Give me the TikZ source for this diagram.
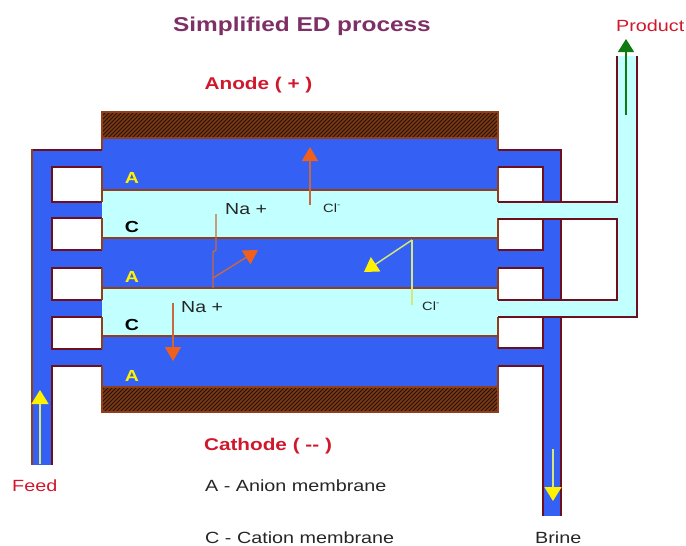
\documentclass[tikz,border=0pt]{standalone}
\usepackage{fontspec}
\setmainfont[FakeStretch=1.22]{Liberation Sans}
\usetikzlibrary{arrows.meta}
\definecolor{bluefill}{HTML}{3560F4}
\definecolor{lightfill}{HTML}{C2FFFF}
\definecolor{maroon}{HTML}{6E0F1E}
\definecolor{rust}{HTML}{8F3F1C}
\definecolor{hatchbrown}{HTML}{7A3A14}
\definecolor{hatchdark}{HTML}{2A1008}
\definecolor{orangehead}{HTML}{F0601C}
\definecolor{orangeline}{HTML}{C8683E}
\definecolor{yellowline}{HTML}{D8E878}
\definecolor{titlepurple}{HTML}{7E2F66}
\definecolor{labelred}{HTML}{D0182C}
\definecolor{greenarrow}{HTML}{0E7A12}
\tikzset{
  x=1pt,y=-1pt,
  pipe/.style={draw=maroon,line width=2.4pt,line cap=butt,line join=miter},
  membrane/.style={draw=rust,line width=2pt},
  bluearea/.style={fill=bluefill,draw=none},
  lightarea/.style={fill=lightfill,draw=none},
  orangearrow/.style={draw=orangeline,line width=1.4pt,-{Triangle[length=14pt,width=16pt,fill=orangehead,color=orangehead]}},
  orangewire/.style={draw=orangeline,line width=1.4pt},
  yellowarrow/.style={draw=yellowline,line width=1.4pt,-{Triangle[length=14pt,width=17pt,fill=yellow,color=yellow]}},
  greenarr/.style={draw=greenarrow,line width=1.4pt,-{Triangle[length=13pt,width=16pt,fill=greenarrow,color=greenarrow]}},
  memlabel/.style={font=\bfseries\fontsize{16}{16}\selectfont,inner sep=0pt},
  ionlabel/.style={font=\fontsize{16}{16}\selectfont,text=black!85,inner sep=0pt,anchor=west},
  plainlabel/.style={font=\fontsize{16.2}{16}\selectfont,inner sep=0pt,anchor=west},
  electrode/.style={draw=rust,line width=2pt}
}
\begin{document}
\begin{tikzpicture}
\useasboundingbox (0,0) rectangle (686,546);
% blue fills: left manifold, body, right manifold
\fill[bluearea] (32,150) rectangle (102,465);
\fill[bluearea] (102,138) rectangle (498,387);
\fill[bluearea] (498,150) rectangle (561,516);
% white openings
\foreach \ya/\yb in {167/202,218/250,268/300,317/349}{
  \fill[white] (52,\ya) rectangle (102,\yb);
  \fill[white] (498,\ya) rectangle (543,\yb);
}
\fill[white] (52,366) rectangle (102,466);
\fill[white] (498,366) rectangle (543,517);
% light channels
\fill[lightarea] (102,190) rectangle (498,238);
\fill[lightarea] (102,288) rectangle (498,336);
\fill[lightarea] (498,202) rectangle (637,219);
\fill[lightarea] (498,300) rectangle (637,317);
\fill[lightarea] (617,56) rectangle (637,317);
% electrodes
\begin{scope}
\clip (102,112) rectangle (498,138);
\fill[hatchdark] (102,112) rectangle (498,138);
\foreach \k in {-10,...,110}{\draw[hatchbrown,line width=1.5pt] (90+\k*4,142) -- (124+\k*4,108);}
\end{scope}
\begin{scope}
\clip (102,387) rectangle (498,412);
\fill[hatchdark] (102,387) rectangle (498,412);
\foreach \k in {-10,...,110}{\draw[hatchbrown,line width=1.5pt] (90+\k*4,416) -- (124+\k*4,382);}
\end{scope}
\draw[electrode] (102,112) rectangle (498,138);
\draw[electrode] (102,387) rectangle (498,412);
% membranes
\foreach \y in {190,238,288,336}{\draw[membrane] (102,\y) -- (498,\y);}
\draw[membrane] (102,138) -- (102,150);
\draw[membrane] (498,138) -- (498,150);
% left manifold walls
\draw[pipe] (102,150) -- (32,150);
\draw[draw=rust,line width=2.4pt] (32,149) -- (32,465);
\foreach \ya/\yb in {167/202,218/250,268/300,317/349}{
  \draw[pipe] (102,\ya) -- (52,\ya) -- (52,\yb) -- (102,\yb);
  \draw[membrane] (102,\ya) -- (102,\yb);
  \draw[membrane] (498,\ya) -- (498,\yb);
}
\draw[pipe] (102,366) -- (52,366) -- (52,465);
\draw[membrane] (102,366) -- (102,387);
\draw[membrane] (498,366) -- (498,387);
% right manifold walls
\draw[pipe] (498,150) -- (561,150) -- (561,202);
\draw[pipe] (561,219) -- (561,300);
\draw[pipe] (561,317) -- (561,516);
\draw[pipe] (498,167) -- (543,167) -- (543,202);
\draw[pipe] (498,250) -- (543,250) -- (543,219);
\draw[pipe] (498,268) -- (543,268) -- (543,300);
\draw[pipe] (498,348) -- (543,348) -- (543,317);
\draw[pipe] (498,366) -- (543,366) -- (543,516);
% product pipe
\draw[pipe] (498,202) -- (617,202) -- (617,56);
\draw[pipe] (498,219) -- (617,219) -- (617,300) -- (498,300);
\draw[pipe] (637,56) -- (637,317) -- (498,317);
% arrow end points
\coordinate (clupa) at (310,205);
\coordinate (clupb) at (310,147);
\coordinate (nawa) at (216,214);
\coordinate (nawb) at (216,250);
\coordinate (nawc) at (213,252);
\coordinate (nawd) at (213,288);
\coordinate (nabr) at (213,278);
\coordinate (natip) at (258,250);
\coordinate (nalowa) at (173,303);
\coordinate (nalowb) at (173,361);
\coordinate (clwa) at (412,305);
\coordinate (clwb) at (412,240);
\coordinate (cltip) at (364,272);
\coordinate (feeda) at (40,464);
\coordinate (feedb) at (40,390);
\coordinate (brinea) at (553,449);
\coordinate (brineb) at (553,501);
\coordinate (proda) at (626,115);
\coordinate (prodb) at (626,39);
\draw[orangearrow] (clupa) -- (clupb);
\draw[orangewire] (nawa) -- (nawb) -- (nawc) -- (nawd);
\draw[orangearrow] (nabr) -- (natip);
\draw[orangearrow] (nalowa) -- (nalowb);
\draw[draw=yellowline,line width=1.4pt] (clwa) -- (clwb);
\draw[yellowarrow] (clwb) -- (cltip);
\draw[yellowarrow] (feeda) -- (feedb);
\draw[yellowarrow] (brinea) -- (brineb);
\draw[greenarr] (proda) -- (prodb);
% texts
\node[font=\bfseries\fontsize{20}{20}\selectfont,text=titlepurple,inner sep=0pt] (title) at (302,26) {Simplified ED process};
\node[font=\bfseries\fontsize{17}{17}\selectfont,text=labelred,inner sep=0pt] (anode) at (258.5,85) {Anode ( + )};
\node[font=\bfseries\fontsize{17}{17}\selectfont,text=labelred,inner sep=0pt] (cathode) at (268,446) {Cathode ( -{}- )};
\node[plainlabel,text=labelred] (feed) at (12,486) {Feed};
\node[plainlabel,text=labelred] (product) at (616,26) {Product};
\node[plainlabel,text=black!85] (brine) at (535,538) {Brine};
\node[plainlabel,text=black!85] (anion) at (205,486) {A - Anion membrane};
\node[plainlabel,text=black!85] (cation) at (205,538) {C - Cation membrane};
\node[ionlabel] (na1) at (225,209) {Na +};
\node[ionlabel] (na2) at (181,307) {Na +};
\node[ionlabel,font=\fontsize{12}{12}\selectfont] (cl1) at (323,208) {Cl\textsuperscript{-}};
\node[ionlabel,font=\fontsize{12}{12}\selectfont] (cl2) at (422,306) {Cl\textsuperscript{-}};
\node[memlabel,text=yellow] (m1) at (132,178) {A};
\node[memlabel,text=black] (m2) at (132,227) {C};
\node[memlabel,text=yellow] (m3) at (132,277) {A};
\node[memlabel,text=black] (m4) at (132,325) {C};
\node[memlabel,text=yellow] (m5) at (132,376) {A};
\end{tikzpicture}
\end{document}
